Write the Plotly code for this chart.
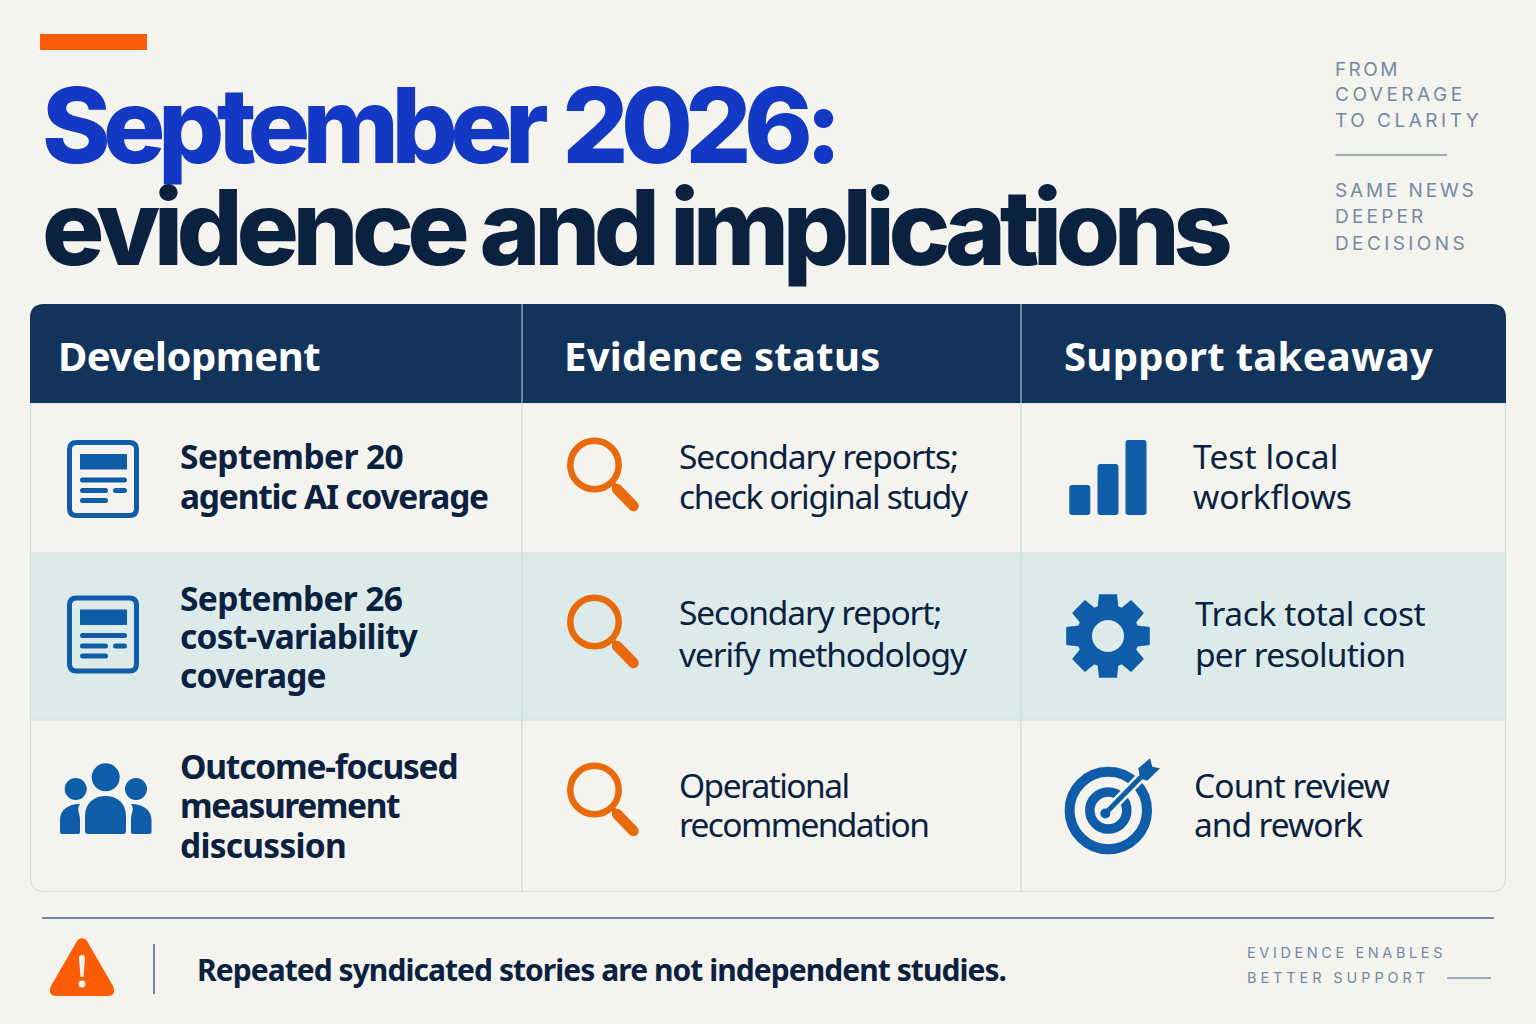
import json, math
import plotly.graph_objects as go

# ---------- content ----------
title_lines = ["September 2026:", "evidence and implications"]
side_top = ["FROM", "COVERAGE", "TO CLARITY"]
side_bottom = ["SAME NEWS", "DEEPER", "DECISIONS"]
headers = ["Development", "Evidence status", "Support takeaway"]
development = [["September 20", "agentic AI coverage"],
               ["September 26", "cost-variability", "coverage"],
               ["Outcome-focused", "measurement", "discussion"]]
evidence = [["Secondary reports;", "check original study"],
            ["Secondary report;", "verify methodology"],
            ["Operational", "recommendation"]]
takeaway = [["Test local", "workflows"],
            ["Track total cost", "per resolution"],
            ["Count review", "and rework"]]
footer_text = "Repeated syndicated stories are not independent studies."
footer_side = ["EVIDENCE ENABLES", "BETTER SUPPORT"]

# ---------- style ----------
BG = "#f4f3ee"; NAVY = "#12335a"; INK = "#0b2140"; TITLE_BLUE = "#1238c4"
TINT = "#dcebea"; BLUE = "#0f5ca8"; ORANGE = "#e96a0c"; ACCENT = "#fb5c05"
MUTED = "#7489a3"; GRID = "#cfdfe0"; VGRID = "#c3dadd"
HEAD_FONT = "Noto Sans"; TITLE_FONT = "Inter"

dev_ls = [[-0.57, -1.2], [-0.65, -0.77, -0.8], [-1.2, -1.4, -0.75]]
evi_ls = [[-1.02, -1.3], [-1.12, -1.08], [-1.57, -1.6]]
tak_ls = [[0.1, -0.2], [-0.4, -0.8], [-0.85, -1.05]]
side_ls = {"FROM": 2.4, "COVERAGE": 3.5, "TO CLARITY": 3.5, "SAME NEWS": 2.85, "DEEPER": 3.2, "DECISIONS": 3.4}

shapes, notes, spacing, wordspacing = [], [], {}, {}


def rrect(x0, y0, x1, y1, r=0, rt=None, rb=None):
    rt = r if rt is None else rt
    rb = r if rb is None else rb
    return (f"M{x0+rt},{y0} L{x1-rt},{y0} Q{x1},{y0} {x1},{y0+rt} L{x1},{y1-rb} Q{x1},{y1} {x1-rb},{y1} "
            f"L{x0+rb},{y1} Q{x0},{y1} {x0},{y1-rb} L{x0},{y0+rt} Q{x0},{y0} {x0+rt},{y0} Z")


def path(d, fill=None, line=None, w=0):
    shapes.append(dict(type="path", path=d, fillcolor=fill or "rgba(0,0,0,0)",
                       line=dict(color=line or "rgba(0,0,0,0)", width=w), layer="below"))


def circle(cx, cy, r, fill=None, line=None, w=0):
    shapes.append(dict(type="circle", x0=cx-r, x1=cx+r, y0=cy-r, y1=cy+r,
                       fillcolor=fill or "rgba(0,0,0,0)",
                       line=dict(color=line or "rgba(0,0,0,0)", width=w), layer="below"))


def seg(x0, y0, x1, y1, color, w=1):
    shapes.append(dict(type="line", x0=x0, y0=y0, x1=x1, y1=y1, line=dict(color=color, width=w), layer="below"))


def text(s, x, y, size, color, font="Noto Sans", weight=400, ls=0):
    notes.append(dict(text=s, x=x, y=y, xref="x", yref="y", xanchor="left", yanchor="middle", showarrow=False,
                      borderpad=0, align="left", font=dict(family=font, size=size, color=color, weight=weight)))
    if ls:
        spacing[s] = ls


def doc_icon(dy, bg):
    path(rrect(69.5, 442.5+dy, 136.5, 515.5+dy, 7), bg, BLUE, 5)
    path(rrect(80, 454+dy, 127, 469.5+dy), BLUE)
    for x0, x1, y in [(80, 127, 480), (80, 108, 490.5), (113, 127, 490.5), (80, 108, 500.5)]:
        path(rrect(x0, y-2.5+dy, x1, y+2.5+dy, 2.5), BLUE)


def people_icon():
    circle(105.7, 777.3, 14, BLUE); circle(75.7, 789, 11, BLUE); circle(136, 789, 11, BLUE)
    path("M85,831 L85,816 C85,803 94,796 105.5,796 C117,796 126,803 126,816 L126,831 Q126,834 123,834 L88,834 Q85,834 85,831 Z", BLUE)
    path("M60,832 L60,820 C60,810 68,804 80,804 C76,810 80,812 80,820 L80,832 Q80,834 78,834 L62,834 Q60,834 60,832 Z", BLUE)
    path("M151.5,832 L151.5,820 C151.5,810 143,804 131,804 C135,810 131,812 131,820 L131,832 Q131,834 133,834 L149.5,834 Q151.5,834 151.5,832 Z", BLUE)


def lens_icon(cy):
    circle(594.5, cy, 24.2, None, ORANGE, 6.5)
    seg(611, cy+17, 618, cy+24, ORANGE, 5)
    seg(617, cy+24, 633.5, cy+41, ORANGE, 10.5)
    circle(633.5, cy+41, 5.2, ORANGE)
    circle(617, cy+24, 5.2, ORANGE)


def gear_icon(cx, cy):
    pts = []
    teeth = 8
    for i in range(teeth):
        a = 2*math.pi*i/teeth - math.pi/2
        for da, r in [(-0.3, 30), (-0.19, 41), (0.19, 41), (0.3, 30)]:
            pts.append((cx + r*math.cos(a+da), cy + r*math.sin(a+da)))
    path("M" + " L".join(f"{x:.1f},{y:.1f}" for x, y in pts) + " Z", BLUE, BLUE, 3)
    circle(cx, cy, 16, TINT)


def target_icon(cx, cy):
    circle(cx, cy, 38.7, BG, BLUE, 10)
    circle(cx, cy, 18.5, None, BLUE, 9.5)
    seg(cx, cy, 1141, 777, BG, 10)
    seg(cx-2, cy+2, 1141, 777, BLUE, 5)
    circle(cx-3, cy+3, 5, BLUE)
    path("M1138.3,768.3 L1150,758.3 L1152.3,766.7 L1160,768.3 L1147.3,780.7 L1140,778.5 Z", BLUE)


# ---------- page furniture ----------
shapes.append(dict(type="rect", x0=40, x1=147, y0=34, y1=50, fillcolor=ACCENT, line=dict(width=0), layer="below"))
text(title_lines[0], 41, 125, 104, TITLE_BLUE, TITLE_FONT, 800, -7.6)
wordspacing[title_lines[0]] = 6
text(title_lines[1], 41, 226.5, 104, INK, TITLE_FONT, 800, -6.5)
for s, y in zip(side_top, [69, 94, 120]):
    text(s, 1334, y, 19, MUTED, "Inter", 400, side_ls[s])
seg(1335.5, 155, 1447, 155, "#7f95ac", 1.5)
for s, y in zip(side_bottom, [190, 216, 243]):
    text(s, 1334, y, 19, MUTED, "Inter", 400, side_ls[s])

# ---------- table ----------
XS = [30, 522, 1021, 1506]
YS = [304, 403, 553, 720, 892]
path(rrect(30, 403, 1506, 892, rt=0, rb=14), BG)
shapes.append(dict(type="rect", x0=30, x1=1506, y0=553, y1=720, fillcolor=TINT, line=dict(width=0), layer="below"))
path(rrect(30.5, 403, 1505.5, 891.5, rt=0, rb=14), None, GRID, 1.2)
for y in YS[2:4]:
    seg(30, y, 1506, y, GRID, 1.2)
for x in XS[1:3]:
    seg(x, 403, x, 892, VGRID, 1.2)
path(rrect(30, 304, 1506, 403, rt=14, rb=0), NAVY)
for x in XS[1:3]:
    seg(x, 304, x, 403, "#a9bccb", 1.2)
for s, x, ls in zip(headers, [56.5, 563, 1062.5], [-0.5, 0.3, 0.3]):
    text(s, x, 355, 40, "#ffffff", HEAD_FONT, 700, ls)

for lines, ys, lss in zip(development, [[457, 497], [599, 637, 676], [767, 806, 846]], dev_ls):
    for s, y, ls in zip(lines, ys, lss):
        text(s, 178.5, y-1.5, 33.5, INK, HEAD_FONT, 700, ls)
for lines, ys, lss in zip(evidence, [[458, 498], [614, 656], [787, 826]], evi_ls):
    for s, y, ls in zip(lines, ys, lss):
        text(s, 677.5, y-2, 33.5, INK, HEAD_FONT, 400, ls)
for lines, ys, x, lss in zip(takeaway, [[458, 498], [615, 656], [787, 826]], [1191.5, 1193.5, 1192.5], tak_ls):
    for s, y, ls in zip(lines, ys, lss):
        text(s, x, y-2, 33.5, INK, HEAD_FONT, 400, ls)

doc_icon(0, BG); doc_icon(155.5, TINT); people_icon()
for cy in [465, 622, 790]:
    lens_icon(cy)
for x0, y0 in [(1069.3, 485), (1097.5, 464), (1125.5, 440)]:
    path(rrect(x0, y0, x0+21, 515, 3), BLUE)
gear_icon(1108, 636)
target_icon(1108.3, 810.5)

# ---------- footer ----------
seg(42, 918, 1494, 918, "#4a6485", 1.5)
path("M77,941 Q82,935 87,941 L113,986 Q117,996 107,996 L57,996 Q47,996 51,986 Z", ACCENT)
path("M79,958 Q79,955 82,955 Q85,955 85,958 L83.5,977 L80.5,977 Z", "#f8f5f0")
circle(82, 984, 3.5, "#f8f5f0")
seg(154, 944, 154, 994, "#4a6485", 1.5)
text(footer_text, 196, 969, 30, INK, HEAD_FONT, 700, -0.95)
for s, y, ls in zip(footer_side, [952, 977], [3.6, 3.9]):
    text(s, 1246, y, 14.5, MUTED, "Inter", 400, ls)
seg(1447, 978, 1491, 978, "#7f95ac", 1.5)

fig = go.Figure()
fig.update_layout(width=1536, height=1024, margin=dict(l=0, r=0, t=0, b=0), paper_bgcolor=BG, plot_bgcolor=BG,
                  xaxis=dict(range=[0, 1536], visible=False, fixedrange=True),
                  yaxis=dict(range=[1024, 0], visible=False, fixedrange=True),
                  shapes=shapes, annotations=notes, hovermode=False, showlegend=False)

post = ("document.body.style.margin='0';document.body.style.background='%s';"
        "var sp=%s,ws=%s;document.querySelectorAll('.annotation-text').forEach(function(t){"
        "var v=sp[t.textContent];if(v)t.style.letterSpacing=v+'px';"
        "var w=ws[t.textContent];if(w)t.style.wordSpacing=w+'px';});") % (BG, json.dumps(spacing), json.dumps(wordspacing))
fig.write_html("out.html", config=dict(displayModeBar=False), post_script=post)
